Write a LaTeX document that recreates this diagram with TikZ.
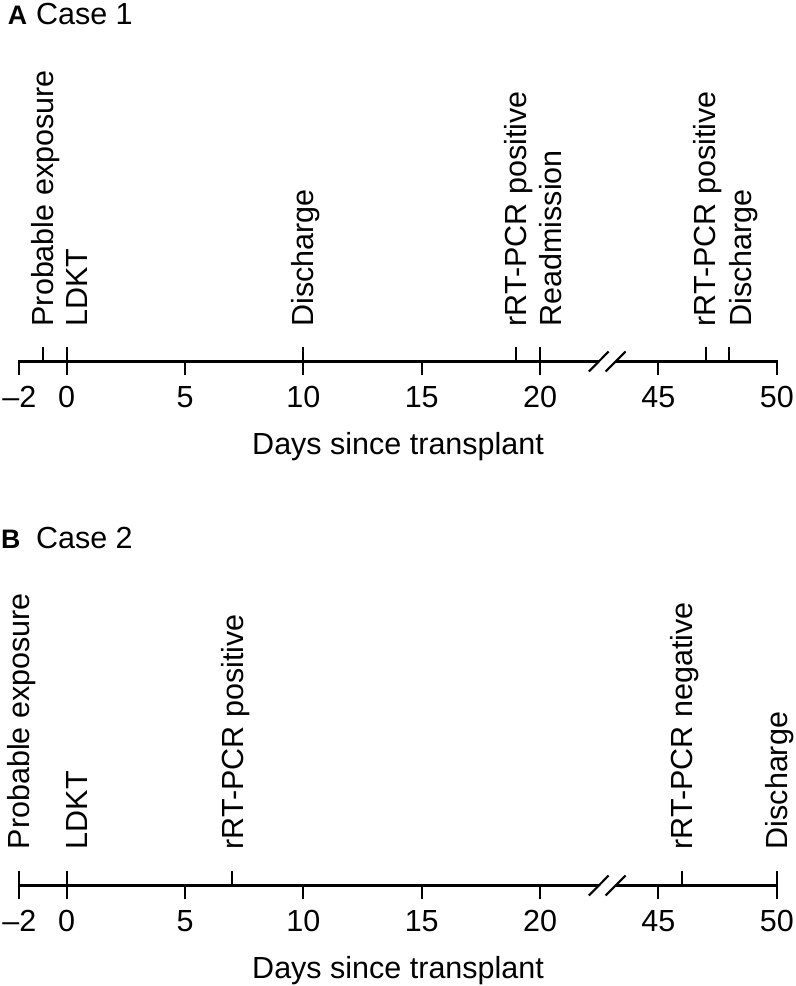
\documentclass[tikz,border=0pt]{standalone}
\usepackage{fontspec}
\setmainfont{Liberation Sans}
\newfontfamily\tagfam{Liberation Sans Bold}
\newcommand\lblfont{\fontsize{21.7}{26}\selectfont}
\newcommand\tagfont{\tagfam\fontsize{19}{22}\selectfont}

\begin{document}
\begin{tikzpicture}[line width=1.5pt,
  evt/.style={rotate=90,anchor=base west,inner sep=0pt,font=\lblfont},
  num/.style={anchor=base,inner sep=0pt,font=\lblfont},
  ttl/.style={anchor=base west,inner sep=0pt,font=\lblfont},
  tag/.style={anchor=base west,inner sep=0pt,font=\tagfont}]
\useasboundingbox (0,0) rectangle (19.9,24.65);
% panel A
\node[tag] (tagA) at (0.17,24.04) {A};
\node[ttl] (ttlA) at (0.875,24.04) {Case 1};
\begin{scope}[shift={(1.6675,15.6125)},x=0.5917cm]
\draw (-2,-0.35) -- (-2,0) -- (22.48,0);
\draw (23.19,0) -- (30,0) -- (30,-0.35);
\draw (22.06,-0.25) -- (22.9,0.25);
\draw (22.77,-0.25) -- (23.61,0.25);
\draw (0,-0.35) -- (0,0);
\draw (5,-0.35) -- (5,0);
\draw (10,-0.35) -- (10,0);
\draw (15,-0.35) -- (15,0);
\draw (20,-0.35) -- (20,0);
\draw (25,-0.35) -- (25,0);
\draw (-1,0) -- (-1,0.35);
\draw (0,0) -- (0,0.35);
\draw (10,0) -- (10,0.35);
\draw (19,0) -- (19,0.35);
\draw (20,0) -- (20,0.35);
\draw (27,0) -- (27,0.35);
\draw (28,0) -- (28,0.35);
\node[evt] (a-pe) at ([xshift=0.26cm]-1,0.85) {Probable exposure};
\node[evt] (a-ldkt) at ([xshift=0.52cm]0,0.85) {LDKT};
\node[evt] (a-dis) at ([xshift=0.26cm]10,0.85) {Discharge};
\node[evt] (a-pos) at ([xshift=0.26cm]19,0.85) {rRT-PCR positive};
\node[evt] (a-read) at ([xshift=0.54cm]20,0.85) {Readmission};
\node[evt] (a-pos2) at ([xshift=0.24cm]27,0.85) {rRT-PCR positive};
\node[evt] (a-dis2) at ([xshift=0.56cm]28,0.85) {Discharge};
\node[num] (a-m2) at (-2,-1.145) {\textendash2};
\node[num] (a-0) at (0,-1.145) {0};
\node[num] (a-5) at (5,-1.145) {5};
\node[num] (a-10) at (10,-1.145) {10};
\node[num] (a-15) at (15,-1.145) {15};
\node[num] (a-20) at (20,-1.145) {20};
\node[num] (a-45) at (25,-1.145) {45};
\node[num] (a-50) at (30,-1.145) {50};
\node[num] (a-ax) at (14,-2.32) {Days since transplant};
\end{scope}
% panel B
\node[tag] (tagB) at (0.0,10.94) {B};
\node[ttl] (ttlB) at (0.875,10.94) {Case 2};
\begin{scope}[shift={(1.6675,2.5125)},x=0.5917cm]
\draw (-2,-0.35) -- (-2,0) -- (22.48,0);
\draw (23.19,0) -- (30,0) -- (30,-0.35);
\draw (22.06,-0.25) -- (22.9,0.25);
\draw (22.77,-0.25) -- (23.61,0.25);
\draw (0,-0.35) -- (0,0);
\draw (5,-0.35) -- (5,0);
\draw (10,-0.35) -- (10,0);
\draw (15,-0.35) -- (15,0);
\draw (20,-0.35) -- (20,0);
\draw (25,-0.35) -- (25,0);
\draw (-2,0) -- (-2,0.35);
\draw (0,0) -- (0,0.35);
\draw (7,0) -- (7,0.35);
\draw (26,0) -- (26,0.35);
\draw (30,0) -- (30,0.35);
\node[evt] (b-pe) at ([xshift=0.26cm]-2,0.88) {Probable exposure};
\node[evt] (b-ldkt) at ([xshift=0.52cm]0,0.88) {LDKT};
\node[evt] (b-pos) at ([xshift=0.27cm]7,0.88) {rRT-PCR positive};
\node[evt] (b-neg) at ([xshift=0.27cm]26,0.88) {rRT-PCR negative};
\node[evt] (b-dis) at ([xshift=0.26cm]30,0.88) {Discharge};
\node[num] (b-m2) at (-2,-1.145) {\textendash2};
\node[num] (b-0) at (0,-1.145) {0};
\node[num] (b-5) at (5,-1.145) {5};
\node[num] (b-10) at (10,-1.145) {10};
\node[num] (b-15) at (15,-1.145) {15};
\node[num] (b-20) at (20,-1.145) {20};
\node[num] (b-45) at (25,-1.145) {45};
\node[num] (b-50) at (30,-1.145) {50};
\node[num] (b-ax) at (14,-2.32) {Days since transplant};
\end{scope}
\end{tikzpicture}
\end{document}
